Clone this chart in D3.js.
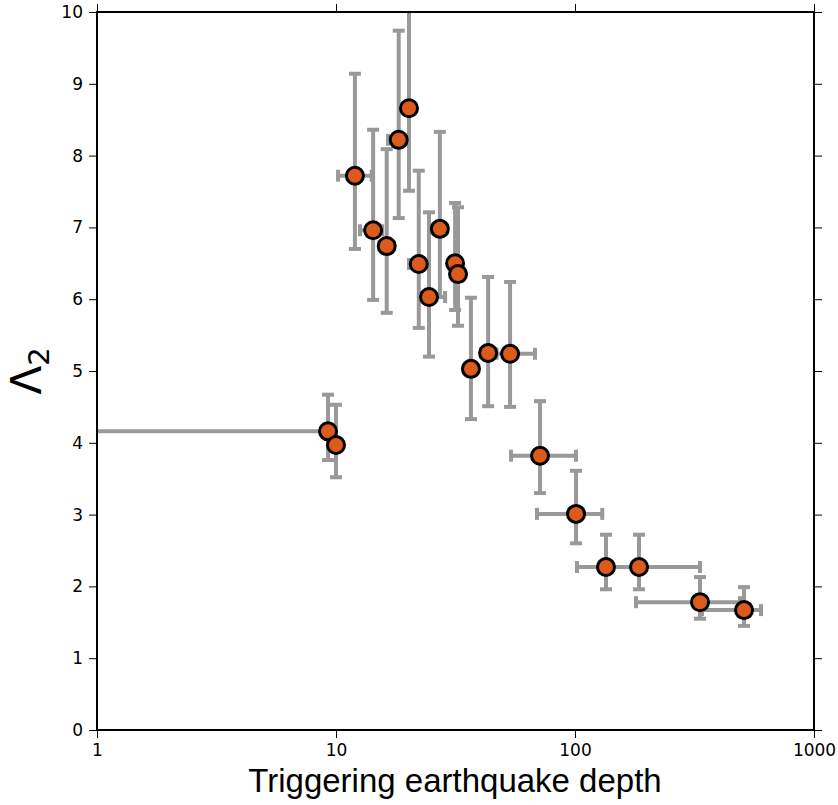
<!DOCTYPE html>
<html>
<head>
<meta charset="utf-8">
<script src="https://cdn.jsdelivr.net/npm/d3@7"></script>
<style>
  body { margin: 0; background: #fff; }
  svg { display: block; }
</style>
</head>
<body>
<svg width="838" height="805"></svg>
<script>
// depth of triggering earthquake (km) and Lambda_2 with error ranges
const depth   = [9.26, 10.0, 12.0, 14.3, 16.3, 18.3, 20.2, 22.2, 24.5, 27.2, 31.5, 32.4, 36.7, 43.3, 53.5, 71.4, 101, 134.8, 185.3, 333.5, 509.6];
const lambda2 = [4.16, 3.97, 7.72, 6.96, 6.74, 8.22, 8.66, 6.49, 6.03, 6.98, 6.50, 6.35, 5.03, 5.25, 5.24, 3.82, 3.01, 2.27, 2.27, 1.78, 1.67];
const yLow    = [3.76, 3.52, 6.70, 5.99, 5.81, 7.13, 7.51, 5.60, 5.20, 6.03, 5.85, 5.63, 4.33, 4.51, 4.50, 3.30, 2.60, 1.96, 1.96, 1.55, 1.45];
const yHigh   = [4.67, 4.53, 9.14, 8.36, 8.09, 9.74, 10.6, 7.79, 7.21, 8.33, 7.34, 7.28, 6.02, 6.31, 6.24, 4.58, 3.61, 2.72, 2.72, 2.13, 1.99];
const xLow    = [0.3, 9.8, 10.2, 12.6, 15.2, 16.5, 19.0, 20.2, 22.5, 25.5, 30.0, 31.0, 34.5, 40.5, 47.0, 54.0, 69.3, 101.9, 140, 180, 340];
const xHigh   = [9.26, 10.2, 14.1, 15.6, 17.4, 20.0, 21.5, 23.5, 28.6, 29.0, 33.0, 34.0, 39.0, 46.5, 68.0, 101, 130, 175, 333.5, 490, 600];

const xTicks = [1, 10, 100, 1000];
const yTicks = [0, 1, 2, 3, 4, 5, 6, 7, 8, 9, 10];

const points = depth.map((d, i) => ({
  x: d, y: lambda2[i], ylo: yLow[i], yhi: yHigh[i], xlo: xLow[i], xhi: xHigh[i]
}));

const margin = {left: 97, top: 12, right: 24, bottom: 75};
const width = 838 - margin.left - margin.right;
const height = 805 - margin.top - margin.bottom;

const svg = d3.select('svg');
const chart = svg.append('g').attr('transform', `translate(${margin.left}, ${margin.top})`);

const xScale = d3.scaleLog().domain([1, 1000]).range([0, width]);
const yScale = d3.scaleLinear().domain([0, 10]).range([height, 0]);

svg.append('clipPath').attr('id', 'plot-clip')
  .append('rect').attr('width', width).attr('height', height);

// error bars
const bars = chart.append('g').attr('clip-path', 'url(#plot-clip)')
  .attr('stroke', '#999999').attr('fill', 'none');
const cap = 6;

points.forEach(p => {
  const cx = xScale(p.x), cy = yScale(p.y);
  bars.append('line')
    .attr('x1', cx).attr('x2', cx)
    .attr('y1', yScale(p.ylo)).attr('y2', yScale(p.yhi))
    .attr('stroke-width', 4);
  bars.append('line')
    .attr('x1', xScale(p.xlo)).attr('x2', xScale(p.xhi))
    .attr('y1', cy).attr('y2', cy)
    .attr('stroke-width', 4);
  [p.ylo, p.yhi].forEach(v => {
    bars.append('line')
      .attr('x1', cx - cap).attr('x2', cx + cap)
      .attr('y1', yScale(v)).attr('y2', yScale(v))
      .attr('stroke-width', 4);
  });
  [p.xlo, p.xhi].forEach(v => {
    bars.append('line')
      .attr('x1', xScale(v)).attr('x2', xScale(v))
      .attr('y1', cy - cap).attr('y2', cy + cap)
      .attr('stroke-width', 4);
  });
});

// markers
chart.append('g').selectAll('circle')
  .data(points)
  .join('circle')
  .attr('cx', d => xScale(d.x))
  .attr('cy', d => yScale(d.y))
  .attr('r', 8.5)
  .attr('fill', '#dc5a1c')
  .attr('stroke', '#000')
  .attr('stroke-width', 3);

// axes: ticks outward on all four sides
const fmt = d3.format('d');
const styleAxis = g => {
  g.select('.domain').remove();
  g.selectAll('.tick line').attr('stroke', '#000').attr('stroke-width', 1);
  g.selectAll('.tick text').attr('font-family', 'DejaVu Sans').attr('font-size', 17).attr('fill', '#000');
};

chart.append('g')
  .attr('transform', `translate(0, ${height})`)
  .call(d3.axisBottom(xScale).tickValues(xTicks).tickFormat(fmt).tickSize(8).tickPadding(6))
  .call(styleAxis);
chart.append('g')
  .call(d3.axisTop(xScale).tickValues(xTicks).tickFormat('').tickSize(8))
  .call(styleAxis);
chart.append('g')
  .call(d3.axisLeft(yScale).tickValues(yTicks).tickFormat(fmt).tickSize(8).tickPadding(6))
  .call(styleAxis);
chart.append('g')
  .attr('transform', `translate(${width}, 0)`)
  .call(d3.axisRight(yScale).tickValues(yTicks).tickFormat('').tickSize(8))
  .call(styleAxis);

// frame
chart.append('rect')
  .attr('width', width).attr('height', height)
  .attr('fill', 'none').attr('stroke', '#000').attr('stroke-width', 2);

// axis labels
svg.append('text')
  .attr('x', 455)
  .attr('y', 792)
  .attr('text-anchor', 'middle')
  .attr('font-family', 'Liberation Sans')
  .attr('font-size', 33)
  .text('Triggering earthquake depth');

const yLabel = svg.append('text')
  .attr('transform', `translate(41, ${margin.top + height / 2}) rotate(-90)`)
  .attr('text-anchor', 'middle')
  .attr('font-family', 'DejaVu Sans')
  .attr('font-size', 42);
yLabel.append('tspan').text('Λ');
yLabel.append('tspan').attr('font-size', 29).attr('dy', 8).text('2');
</script>
</body>
</html>
